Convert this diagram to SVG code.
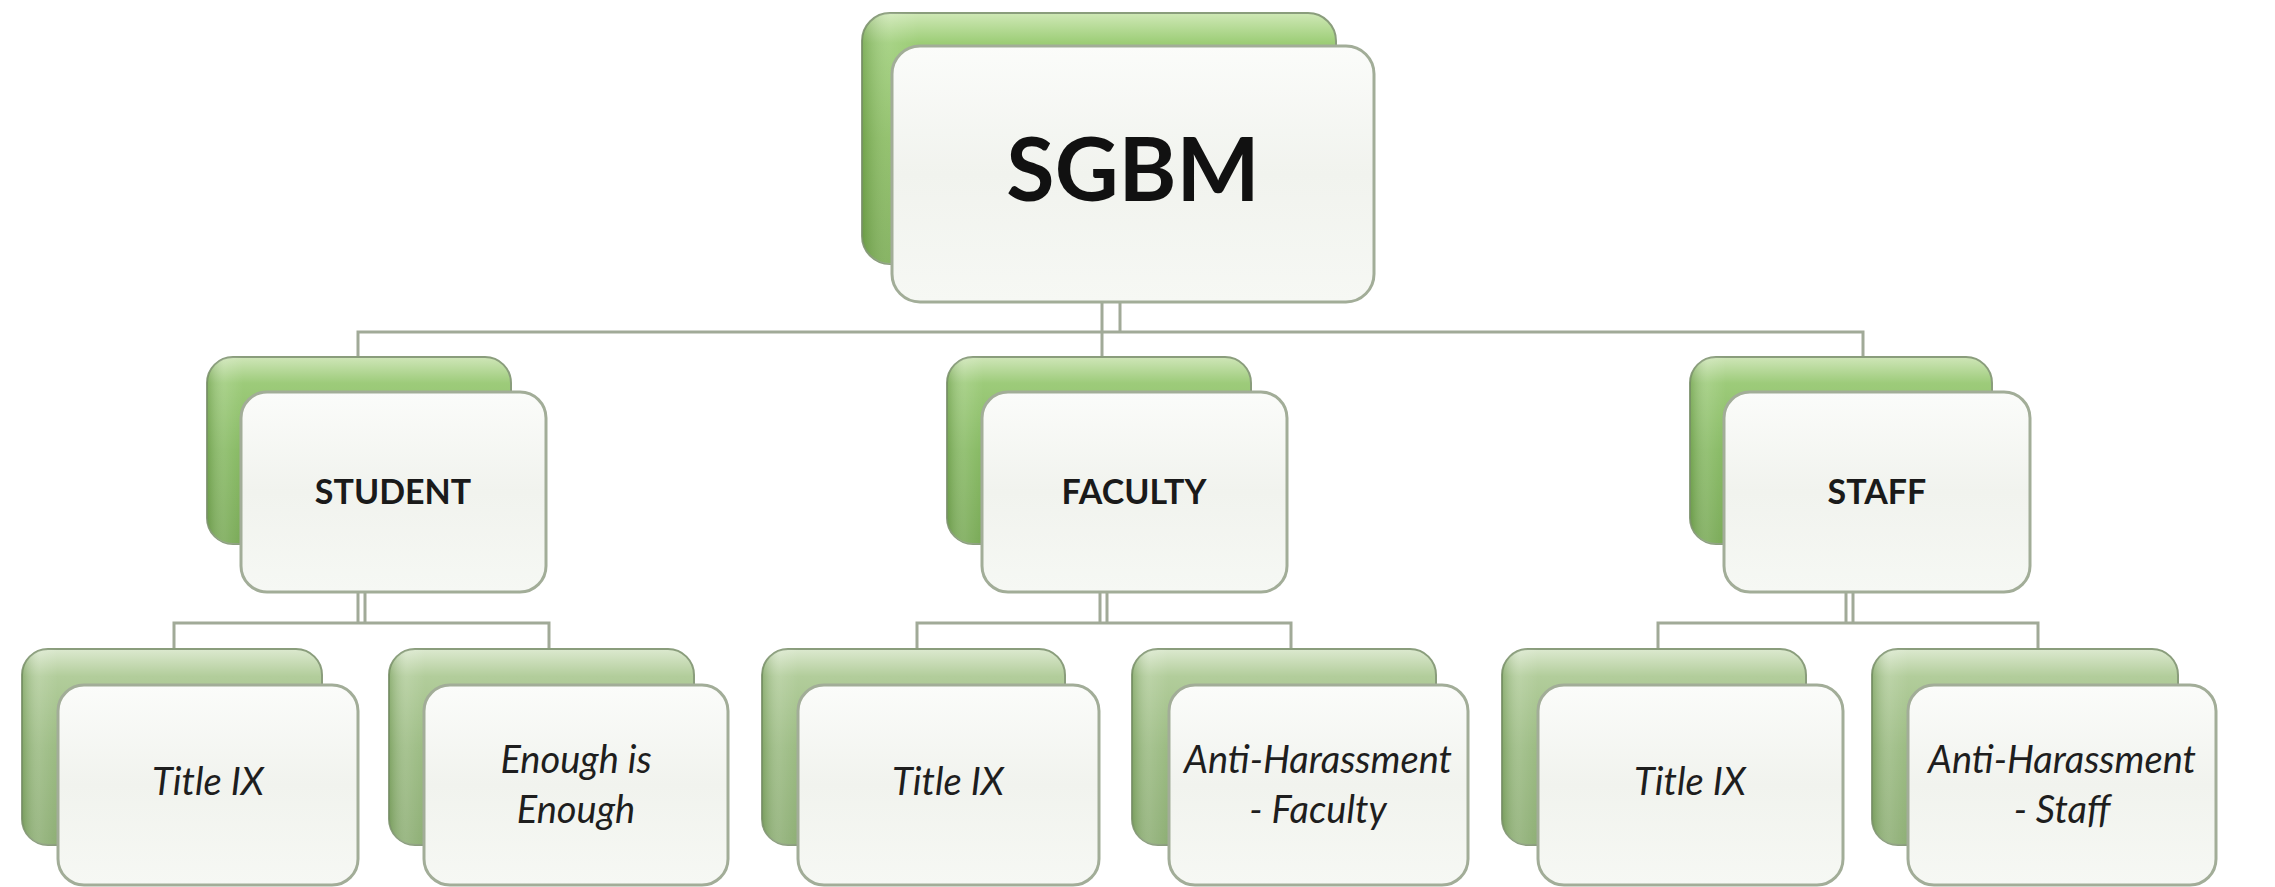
<svg xmlns="http://www.w3.org/2000/svg" width="2275" height="887" viewBox="0 0 2275 887">
<defs>
<linearGradient id="gTop" x1="0" y1="0" x2="0" y2="1">
<stop offset="0" stop-color="#cfe8b6"/>
<stop offset="0.12" stop-color="#9ccd76"/>
<stop offset="0.5" stop-color="#86ba5c"/>
<stop offset="1" stop-color="#77aa4f"/>
</linearGradient>
<linearGradient id="gMid" x1="0" y1="0" x2="0" y2="1">
<stop offset="0" stop-color="#cfe6b8"/>
<stop offset="0.14" stop-color="#9dcb7a"/>
<stop offset="0.5" stop-color="#86b962"/>
<stop offset="1" stop-color="#78a955"/>
</linearGradient>
<linearGradient id="gLow" x1="0" y1="0" x2="0" y2="1">
<stop offset="0" stop-color="#dce9cf"/>
<stop offset="0.14" stop-color="#b2cd9b"/>
<stop offset="0.5" stop-color="#9bbb82"/>
<stop offset="1" stop-color="#8dae74"/>
</linearGradient>
<linearGradient id="gSide" x1="0" y1="0" x2="1" y2="0">
<stop offset="0" stop-color="#4d7a2e" stop-opacity="0.35"/>
<stop offset="0.06" stop-color="#ffffff" stop-opacity="0.12"/>
<stop offset="0.12" stop-color="#ffffff" stop-opacity="0"/>
<stop offset="1" stop-color="#ffffff" stop-opacity="0"/>
</linearGradient>
<linearGradient id="gFront" x1="0" y1="0" x2="0" y2="1">
<stop offset="0" stop-color="#fbfcfa"/>
<stop offset="0.5" stop-color="#f1f3ee"/>
<stop offset="1" stop-color="#f6f8f4"/>
</linearGradient>
</defs>
<style>
.back{stroke:#8a9d7c;stroke-width:2}
.top{fill:url(#gTop)}
.mid{fill:url(#gMid)}
.low{fill:url(#gLow)}
.side{fill:url(#gSide)}
.front{fill:url(#gFront);stroke:#a2ad98;stroke-width:3}
.conn{stroke:#a1aa98;stroke-width:3;fill:none}
.t1{font-family:Lato,'Open Sans',sans-serif;font-weight:700;font-size:88px;fill:#111;text-anchor:middle}
.t2{font-family:Lato,'Open Sans',sans-serif;font-weight:700;font-size:34px;fill:#1a1a1a;text-anchor:middle}
.t3{font-family:Lato,'Open Sans',sans-serif;font-style:italic;font-size:38px;fill:#1e1e1e;text-anchor:middle}
</style>
<rect width="2275" height="887" fill="#ffffff"/>
<g id="connectors">
<path class="conn" d="M1102 302V357M1120 302V332M358 357V332H1863V357"/>
<path class="conn" d="M358 592V623M365 592V623M174 649V623H549V649"/>
<path class="conn" d="M1100 592V623M1107 592V623M917 649V623H1291V649"/>
<path class="conn" d="M1846 592V623M1853 592V623M1658 649V623H2038V649"/>
</g>
<g id="sgbm">
<rect class="back top" x="862" y="13" width="474" height="251" rx="28"/>
<rect class="side" x="862" y="13" width="474" height="251" rx="28"/>
<rect class="front" x="892" y="46" width="482" height="256" rx="28"/>
<text class="t1" x="1133" y="201">SGBM</text>
</g>
<g id="student">
<rect class="back mid" x="207" y="357" width="304" height="187" rx="26"/>
<rect class="side" x="207" y="357" width="304" height="187" rx="26"/>
<rect class="front" x="241" y="392" width="305" height="200" rx="26"/>
<text class="t2" x="393" y="504">STUDENT</text>
</g>
<g id="faculty">
<rect class="back mid" x="947" y="357" width="304" height="187" rx="26"/>
<rect class="side" x="947" y="357" width="304" height="187" rx="26"/>
<rect class="front" x="982" y="392" width="305" height="200" rx="26"/>
<text class="t2" x="1134" y="504">FACULTY</text>
</g>
<g id="staff">
<rect class="back mid" x="1690" y="357" width="302" height="187" rx="26"/>
<rect class="side" x="1690" y="357" width="302" height="187" rx="26"/>
<rect class="front" x="1724" y="392" width="306" height="200" rx="26"/>
<text class="t2" x="1877" y="504">STAFF</text>
</g>
<g id="student-title-ix">
<rect class="back low" x="22" y="649" width="300" height="196" rx="26"/>
<rect class="side" x="22" y="649" width="300" height="196" rx="26"/>
<rect class="front" x="58" y="685" width="300" height="200" rx="26"/>
<text class="t3" x="208" y="795">Title IX</text>
</g>
<g id="enough-is-enough">
<rect class="back low" x="389" y="649" width="305" height="196" rx="26"/>
<rect class="side" x="389" y="649" width="305" height="196" rx="26"/>
<rect class="front" x="424" y="685" width="304" height="200" rx="26"/>
<text class="t3" x="576" y="773">Enough is</text>
<text class="t3" x="576" y="823">Enough</text>
</g>
<g id="faculty-title-ix">
<rect class="back low" x="762" y="649" width="303" height="196" rx="26"/>
<rect class="side" x="762" y="649" width="303" height="196" rx="26"/>
<rect class="front" x="798" y="685" width="301" height="200" rx="26"/>
<text class="t3" x="948" y="795">Title IX</text>
</g>
<g id="anti-harassment-faculty">
<rect class="back low" x="1132" y="649" width="304" height="196" rx="26"/>
<rect class="side" x="1132" y="649" width="304" height="196" rx="26"/>
<rect class="front" x="1169" y="685" width="299" height="200" rx="26"/>
<text class="t3" x="1318" y="773">Anti-Harassment</text>
<text class="t3" x="1318" y="823">- Faculty</text>
</g>
<g id="staff-title-ix">
<rect class="back low" x="1502" y="649" width="304" height="196" rx="26"/>
<rect class="side" x="1502" y="649" width="304" height="196" rx="26"/>
<rect class="front" x="1538" y="685" width="305" height="200" rx="26"/>
<text class="t3" x="1690" y="795">Title IX</text>
</g>
<g id="anti-harassment-staff">
<rect class="back low" x="1872" y="649" width="306" height="196" rx="26"/>
<rect class="side" x="1872" y="649" width="306" height="196" rx="26"/>
<rect class="front" x="1908" y="685" width="308" height="200" rx="26"/>
<text class="t3" x="2062" y="773">Anti-Harassment</text>
<text class="t3" x="2062" y="823">- Staff</text>
</g>
</svg>
